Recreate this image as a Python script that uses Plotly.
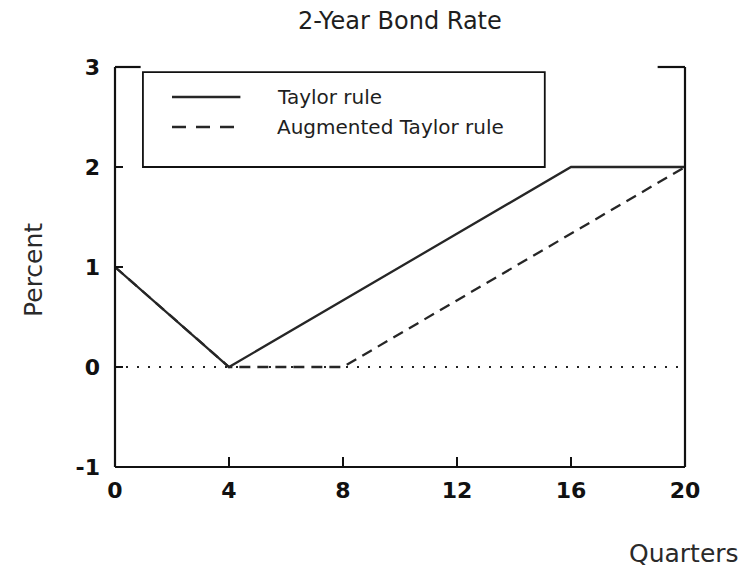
import plotly.graph_objects as go

# Policy paths for the 2-year bond rate (percent) by quarter
quarters_taylor = [0, 4, 16, 20]
rate_taylor = [1, 0, 2, 2]
quarters_aug = [0, 4, 8, 20]
rate_aug = [1, 0, 0, 2]
x_ticks = [0, 4, 8, 12, 16, 20]
y_ticks = [-1, 0, 1, 2, 3]
series_names = ["Taylor rule", "Augmented Taylor rule"]

line_color = "#262626"
text_color = "#1e1e1e"
font_family = "DejaVu Sans, Verdana, sans-serif"

fig = go.Figure()

# dotted zero reference line
fig.add_trace(go.Scatter(
    x=[x_ticks[0], x_ticks[-1]], y=[0, 0], mode="lines",
    line=dict(color="#222", width=2, dash="2px,9px"),
    showlegend=False, hoverinfo="skip"))

fig.add_trace(go.Scatter(
    x=quarters_aug, y=rate_aug, mode="lines", name=series_names[1],
    line=dict(color=line_color, width=2.3, dash="11px,7px"),
    showlegend=False))
fig.add_trace(go.Scatter(
    x=quarters_taylor, y=rate_taylor, mode="lines", name=series_names[0],
    line=dict(color=line_color, width=2.3),
    showlegend=False))

frame = dict(color="#111", width=2.2)
shapes = []
# frame: left, right, bottom, and the top edge broken by the legend box
shapes.append(dict(type="line", xref="paper", yref="paper", x0=0, x1=0, y0=0, y1=1, line=frame))
shapes.append(dict(type="line", xref="paper", yref="paper", x0=1, x1=1, y0=0, y1=1, line=frame))
shapes.append(dict(type="line", xref="paper", yref="paper", x0=0, x1=1, y0=0, y1=0, line=frame))
shapes.append(dict(type="line", xref="paper", yref="paper", x0=0, x1=0.045, y0=1, y1=1, line=frame))
shapes.append(dict(type="line", xref="paper", yref="paper", x0=0.952, x1=1, y0=1, y1=1, line=frame))

# legend box
lx0, lx1, ly0, ly1 = 0.049, 0.754, 0.75, 0.987
shapes.append(dict(type="rect", xref="paper", yref="paper", x0=lx0, x1=lx1, y0=ly0, y1=ly1,
                   line=dict(color="#111", width=1.8), fillcolor="white", layer="above"))
# legend samples
y_entry = [0.925, 0.85]
shapes.append(dict(type="line", xref="paper", yref="paper", x0=0.1, x1=0.22,
                   y0=y_entry[0], y1=y_entry[0],
                   line=dict(color=line_color, width=2.3), layer="above"))
shapes.append(dict(type="line", xref="paper", yref="paper", x0=0.1, x1=0.22,
                   y0=y_entry[1], y1=y_entry[1],
                   line=dict(color=line_color, width=2.3, dash="14px,10px"), layer="above"))

annotations = [
    dict(text=series_names[0], xref="paper", yref="paper", x=0.28, y=y_entry[0],
         xanchor="left", yanchor="middle", showarrow=False,
         font=dict(size=20, color=text_color, family=font_family)),
    dict(text=series_names[1], xref="paper", yref="paper", x=0.28, y=y_entry[1],
         xanchor="left", yanchor="middle", showarrow=False,
         font=dict(size=20, color=text_color, family=font_family)),
    dict(text="2-Year Bond Rate", xref="paper", yref="paper", x=0.5, y=1.115,
         xanchor="center", yanchor="middle", showarrow=False,
         font=dict(size=24, color=text_color, family=font_family)),
    dict(text="Percent", xref="paper", yref="paper", x=-0.144, y=0.4925,
         xanchor="center", yanchor="middle", textangle=-90, showarrow=False,
         font=dict(size=25, color="#2a2a2a", family=font_family)),
    dict(text="Quarters", xref="paper", yref="paper", x=1.098, y=-0.215,
         xanchor="right", yanchor="middle", showarrow=False,
         font=dict(size=25, color="#2a2a2a", family=font_family)),
]

tick_font = dict(size=22, color="#111", family=font_family, weight="bold")

fig.update_layout(
    width=755, height=575,
    margin=dict(l=115, r=70, t=67, b=108),
    paper_bgcolor="white", plot_bgcolor="white",
    shapes=shapes, annotations=annotations,
    showlegend=False,
    xaxis=dict(range=[0, 20], tickvals=x_ticks, ticktext=[str(v) for v in x_ticks],
               ticks="inside", ticklen=10, tickwidth=2, tickcolor="#111",
               ticklabelstandoff=8,
               showgrid=False, zeroline=False, showline=False, tickfont=tick_font),
    yaxis=dict(range=[-1, 3], tickvals=y_ticks, ticktext=[str(v) for v in y_ticks],
               ticks="inside", ticklen=8, tickwidth=2, tickcolor="#111",
               ticklabelstandoff=14,
               showgrid=False, zeroline=False, showline=False, tickfont=tick_font),
)

fig.write_html("out.html")
